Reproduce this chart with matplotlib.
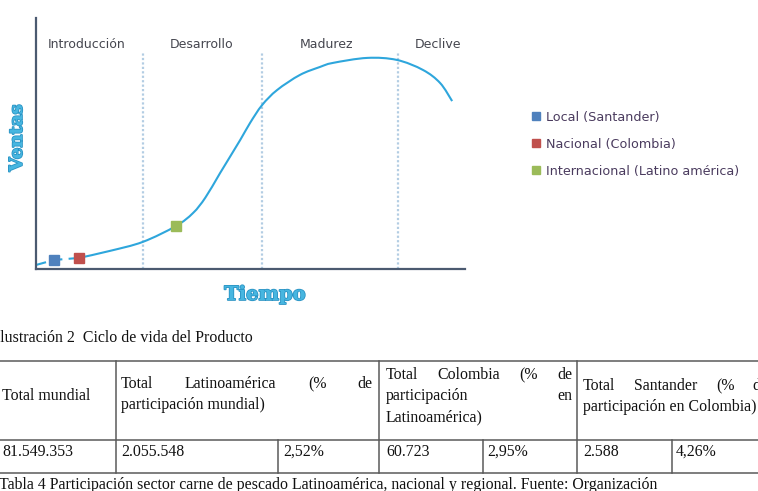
import matplotlib
matplotlib.use('Agg')
import matplotlib.pyplot as plt
from matplotlib.patches import Patch, PathPatch
from matplotlib.path import Path
import matplotlib.patheffects as pe

W, H, DPI = 758, 491, 100

# ---------------- chart data (time 0-100, sales 0-100) ----------------
curve_t = [10.0, 17.2, 24.9, 32.6, 36.6, 39.5, 42.9, 47.6, 49.9, 52.7, 56.2,
           61.5, 66.2, 69.2, 77.2, 84.1, 90.2, 94.2, 97.0]
curve_v = [4.4, 7.2, 10.8, 17.1, 22.3, 28.5, 38.2, 51.4, 58.2, 65.3, 71.3,
           77.3, 80.5, 82.1, 84.1, 83.3, 79.3, 74.1, 66.9]
start_t = [0.0, 4.2, 10.0]
start_v = [1.6, 3.6, 4.4]
marker_labels = ['Local (Santander)', 'Nacional (Colombia)',
                 'Internacional (Latino américa)']
marker_t = [4.2, 10.0, 32.6]
marker_v = [3.6, 4.4, 17.1]
marker_colors = ['#4f81bd', '#c0504d', '#9bbb59']
phase_names = ['Introducción', 'Desarrollo', 'Madurez', 'Declive']
phase_centers = [11.9, 38.5, 67.8, 93.7]
phase_bounds = [24.9, 52.7, 84.4]

# ---------------- table data ----------------
header_mundial = 'Total mundial'
header_latam = ['Total Latinoamérica (% de', 'participación mundial)']
header_col = ['Total Colombia (% de', 'participación en', 'Latinoamérica)']
header_san = ['Total Santander (% de', 'participación en Colombia)']
row_values = ['81.549.353', '2.055.548', '2,52%', '60.723', '2,95%', '2.588', '4,26%']
caption_fig = 'Ilustración 2  Ciclo de vida del Producto'
caption_table = ('Tabla 4 Participación sector carne de pescado Latinoamérica, '
                 'nacional y regional. Fuente: Organización')

fig = plt.figure(figsize=(W / DPI, H / DPI), dpi=DPI)
fig.patch.set_facecolor('white')

# page axes in pixel units (for table and captions)
page = fig.add_axes([0, 0, 1, 1])
page.set_xlim(0, W)
page.set_ylim(H, 0)
page.axis('off')

# chart axes
ax = fig.add_axes([36 / W, (H - 269) / H, 429 / W, 251 / H])
ax.set_facecolor('none')
ax.set_xlim(0, 100)
ax.set_ylim(0, 100)
ax.set_xticks([])
ax.set_yticks([])
for s in ['top', 'right']:
    ax.spines[s].set_visible(False)
for s in ['left', 'bottom']:
    ax.spines[s].set_color('#4b5a70')
    ax.spines[s].set_linewidth(1.6)

# phase separators
ax.vlines(phase_bounds, 0, 86.5, colors='#b3cde3', linestyles=(0, (1, 1)),
          lw=1.6, zorder=1)

# smooth curve (Catmull-Rom through read points)
pts = list(zip(curve_t, curve_v))
verts = [pts[0]]
codes = [Path.MOVETO]
for i in range(len(pts) - 1):
    p0 = pts[i - 1] if i > 0 else pts[i]
    p1 = pts[i]
    p2 = pts[i + 1]
    p3 = pts[i + 2] if i + 2 < len(pts) else pts[i + 1]
    c1 = (p1[0] + (p2[0] - p0[0]) / 6, p1[1] + (p2[1] - p0[1]) / 6)
    c2 = (p2[0] - (p3[0] - p1[0]) / 6, p2[1] - (p3[1] - p1[1]) / 6)
    verts += [c1, c2, p2]
    codes += [Path.CURVE4] * 3
ax.add_patch(PathPatch(Path(verts, codes), fill=False, edgecolor='#2ea6dc',
                       lw=1.5, zorder=2, clip_on=False))
ax.plot(start_t, start_v, color='#2ea6dc', lw=1.5, ls=(0, (5, 3)),
        zorder=2, clip_on=False)

for t, v, c in zip(marker_t, marker_v, marker_colors):
    ax.plot([t], [v], marker='s', ms=6.8, color=c, mec=c, ls='none',
            zorder=3, clip_on=False)

for name, xc in zip(phase_names, phase_centers):
    ax.text(xc, 89.6, name, ha='center', va='center', fontsize=9,
            color='#45464f', family='DejaVu Sans')

outline = [pe.withStroke(linewidth=1.2, foreground='#2a93c4')]
page.text(17, 138, 'Ventas', rotation=90, ha='center', va='center',
          fontsize=13, fontweight='bold', family='DejaVu Serif',
          color='#47b6e0', path_effects=outline)
page.text(265, 295, 'Tiempo', ha='center', va='center', fontsize=14,
          fontweight='bold', family='DejaVu Serif', color='#47b6e0',
          path_effects=outline)

handles = [Patch(facecolor=c, edgecolor=c) for c in marker_colors]
fig.legend(handles, marker_labels, loc='upper left',
           bbox_to_anchor=(532 / W, 1 - 110.5 / H), frameon=False,
           fontsize=9.2, handlelength=0.62, handleheight=0.62,
           handletextpad=0.45, labelspacing=1.1, borderpad=0,
           borderaxespad=0, labelcolor='#4a3b5e')

# ---------------- table ----------------
TK = dict(family='Liberation Serif', fontsize=11.45, color='#111111',
          va='baseline')
LC = '#5a5a5a'
for y in [361, 439.5, 473]:
    page.plot([0, W], [y, y], color=LC, lw=1.1)
for x in [116, 379, 577]:
    page.plot([x, x], [361, 473], color=LC, lw=1.1)
for x in [278, 483, 672]:
    page.plot([x, x], [439.5, 473], color=LC, lw=1.1)

renderer = fig.canvas.get_renderer()


def justify(line, x0, x1, y):
    words = line.split()
    texts = [page.text(0, y, w, **TK) for w in words]
    widths = [t.get_window_extent(renderer).width for t in texts]
    gap = (x1 - x0 - sum(widths)) / (len(words) - 1)
    x = x0
    for t, w in zip(texts, widths):
        t.set_x(x)
        x += w + gap


page.text(-5, 342, caption_fig, **TK)
page.text(2, 400, header_mundial, **TK)
justify(header_latam[0], 121, 373, 388)
page.text(121, 409, header_latam[1], **TK)
justify(header_col[0], 386, 572, 379)
justify(header_col[1], 386, 572, 400)
page.text(386, 421, header_col[2], **TK)
justify(header_san[0], 583, 768, 390)
page.text(583, 411, header_san[1], **TK)

for x, v in zip([2, 121, 283, 386, 487, 583, 676], row_values):
    page.text(x, 456, v, **TK)

page.text(-1, 489, caption_table, **TK)

fig.savefig('out.png', dpi=DPI, facecolor='white')
